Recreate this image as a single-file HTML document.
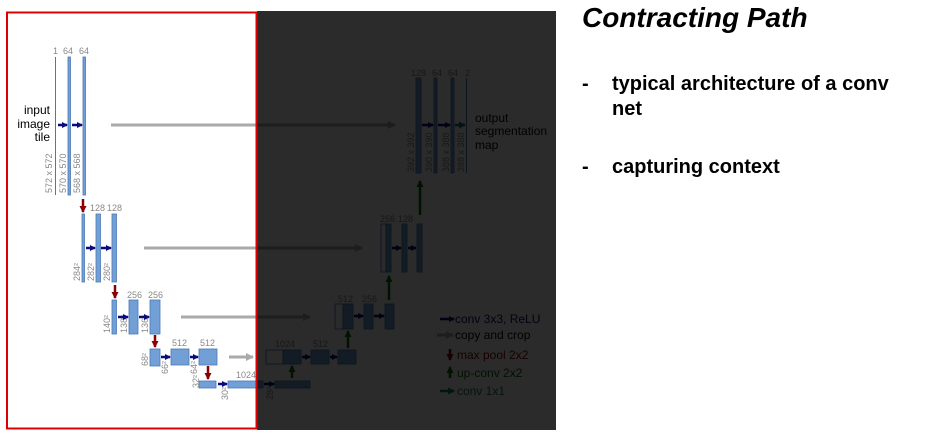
<!DOCTYPE html>
<html><head><style>
html,body{margin:0;padding:0;background:#fff;width:942px;height:438px;overflow:hidden}
svg{display:block;font-family:"Liberation Sans",sans-serif}
.b{fill:#729fd6;stroke:#4a78b5;stroke-width:0.8}
.d{fill:#888;font-size:9px}
.t{fill:#000;font-size:12px}
</style></head><body>
<svg width="942" height="438" viewBox="0 0 942 438">
<defs>
<marker id="ab" markerWidth="6" markerHeight="6" refX="5" refY="3" orient="auto" markerUnits="userSpaceOnUse"><path d="M0,0 L6,3 L0,6z" fill="#0b0b7a"/></marker>
<marker id="ag" markerWidth="8" markerHeight="8" refX="7" refY="4" orient="auto" markerUnits="userSpaceOnUse"><path d="M0,0 L8,4 L0,8z" fill="#aaa"/></marker>
<marker id="ar" markerWidth="7" markerHeight="7" refX="6" refY="3.5" orient="auto" markerUnits="userSpaceOnUse"><path d="M0,0 L7,3.5 L0,7z" fill="#8b0000"/></marker>
<marker id="au" markerWidth="7" markerHeight="7" refX="6" refY="3.5" orient="auto" markerUnits="userSpaceOnUse"><path d="M0,0 L7,3.5 L0,7z" fill="#0a6a0a"/></marker>
<marker id="at" markerWidth="7" markerHeight="7" refX="6" refY="3.5" orient="auto" markerUnits="userSpaceOnUse"><path d="M0,0 L7,3.5 L0,7z" fill="#1a7a6a"/></marker>
</defs>
<g stroke-width="3" fill="none">
<!-- copy arrows -->
<line x1="111" y1="125" x2="395" y2="125" stroke="#aaa" marker-end="url(#ag)"/>
<line x1="144" y1="248" x2="362" y2="248" stroke="#aaa" marker-end="url(#ag)"/>
<line x1="181" y1="317" x2="310" y2="317" stroke="#aaa" marker-end="url(#ag)"/>
<line x1="229" y1="357" x2="253" y2="357" stroke="#aaa" marker-end="url(#ag)"/>
</g>
<!-- level1 -->
<rect x="55" y="57" width="1" height="138" fill="#4a78b5"/>
<rect class="b" x="68" y="57" width="2.5" height="138"/>
<rect class="b" x="83" y="57" width="2.5" height="138"/>
<text class="d" x="53" y="54">1</text><text class="d" x="63" y="54">64</text><text class="d" x="79" y="54">64</text>
<text class="t" x="50" y="114" text-anchor="end">input</text>
<text class="t" x="50" y="128" text-anchor="end">image</text>
<text class="t" x="50" y="141" text-anchor="end">tile</text>
<text class="d" transform="translate(52,193) rotate(-90)">572 x 572</text>
<text class="d" transform="translate(66,193) rotate(-90)">570 x 570</text>
<text class="d" transform="translate(80,193) rotate(-90)">568 x 568</text>
<!-- level2 -->
<rect class="b" x="82" y="214" width="2.5" height="68"/>
<rect class="b" x="96" y="214" width="4.5" height="68"/>
<rect class="b" x="112" y="214" width="4.5" height="68"/>
<text class="d" x="90" y="211">128</text><text class="d" x="107" y="211">128</text>
<text class="d" transform="translate(80,281) rotate(-90)">284²</text>
<text class="d" transform="translate(94,281) rotate(-90)">282²</text>
<text class="d" transform="translate(110,281) rotate(-90)">280²</text>
<!-- level3 -->
<rect class="b" x="112" y="300" width="4.5" height="34"/>
<rect class="b" x="129" y="300" width="9" height="34"/>
<rect class="b" x="150" y="300" width="10" height="34"/>
<text class="d" x="127" y="298">256</text><text class="d" x="148" y="298">256</text>
<text class="d" transform="translate(110,333) rotate(-90)">140²</text>
<text class="d" transform="translate(127,333) rotate(-90)">138²</text>
<text class="d" transform="translate(148,333) rotate(-90)">136²</text>
<!-- level4 -->
<rect class="b" x="150" y="349" width="10" height="17"/>
<rect class="b" x="171" y="349" width="18" height="16"/>
<rect class="b" x="199" y="349" width="18" height="16"/>
<text class="d" x="172" y="346">512</text><text class="d" x="200" y="346">512</text>
<text class="d" transform="translate(148,366) rotate(-90)">68²</text>
<text class="d" transform="translate(168,374) rotate(-90)">66²</text>
<text class="d" transform="translate(197,374) rotate(-90)">64²</text>
<!-- level5 -->
<rect class="b" x="199" y="381" width="17" height="7"/>
<rect class="b" x="228" y="381" width="35" height="7"/>
<rect class="b" x="275" y="381" width="35" height="7"/>
<text class="d" x="236" y="378">1024</text>
<text class="d" transform="translate(199,388) rotate(-90)">32²</text>
<text class="d" transform="translate(228,400) rotate(-90)">30²</text>
<text class="d" transform="translate(273,400) rotate(-90)">28²</text>
<!-- right side -->
<rect x="266" y="350" width="17" height="14" fill="#fff" stroke="#4a78b5" stroke-width="0.8"/>
<rect class="b" x="283" y="350" width="18" height="14"/>
<rect class="b" x="311" y="350" width="18" height="14"/>
<rect class="b" x="338" y="350" width="18" height="14"/>
<text class="d" x="275" y="347">1024</text><text class="d" x="313" y="347">512</text>
<rect x="335" y="304" width="8" height="25" fill="#fff" stroke="#4a78b5" stroke-width="0.8"/>
<rect class="b" x="343" y="304" width="10" height="25"/>
<rect class="b" x="364" y="304" width="9" height="25"/>
<rect class="b" x="385" y="304" width="9" height="25"/>
<text class="d" x="338" y="302">512</text><text class="d" x="362" y="302">256</text>
<rect x="381" y="224" width="5" height="48" fill="#fff" stroke="#4a78b5" stroke-width="0.8"/>
<rect class="b" x="386" y="224" width="5" height="48"/>
<rect class="b" x="402" y="224" width="5" height="48"/>
<rect class="b" x="417" y="224" width="5" height="48"/>
<text class="d" x="380" y="222">256</text><text class="d" x="398" y="222">128</text>
<rect class="b" x="416" y="78" width="5" height="95"/>
<rect class="b" x="434" y="78" width="3" height="95"/>
<rect class="b" x="451" y="78" width="3" height="95"/>
<rect x="466" y="78" width="1" height="95" fill="#4a78b5"/>
<text class="d" x="411" y="76">128</text><text class="d" x="432" y="76">64</text><text class="d" x="448" y="76">64</text><text class="d" x="465" y="76">2</text>
<text class="d" transform="translate(414,172) rotate(-90)">392 x 392</text>
<text class="d" transform="translate(432,172) rotate(-90)">390 x 390</text>
<text class="d" transform="translate(449,172) rotate(-90)">388 x 388</text>
<text class="d" transform="translate(464,172) rotate(-90)">388 x 388</text>
<text class="t" x="475" y="122">output</text>
<text class="t" x="475" y="135">segmentation</text>
<text class="t" x="475" y="149">map</text>
<g stroke-width="2.5" fill="none">
<line x1="58" y1="125" x2="67" y2="125" stroke="#0b0b7a" marker-end="url(#ab)"/>
<line x1="72" y1="125" x2="82" y2="125" stroke="#0b0b7a" marker-end="url(#ab)"/>
<line x1="86" y1="248" x2="95" y2="248" stroke="#0b0b7a" marker-end="url(#ab)"/>
<line x1="101" y1="248" x2="111" y2="248" stroke="#0b0b7a" marker-end="url(#ab)"/>
<line x1="118" y1="317" x2="128" y2="317" stroke="#0b0b7a" marker-end="url(#ab)"/>
<line x1="139" y1="317" x2="149" y2="317" stroke="#0b0b7a" marker-end="url(#ab)"/>
<line x1="161" y1="357" x2="170" y2="357" stroke="#0b0b7a" marker-end="url(#ab)"/>
<line x1="190" y1="357" x2="198" y2="357" stroke="#0b0b7a" marker-end="url(#ab)"/>
<line x1="218" y1="384" x2="227" y2="384" stroke="#0b0b7a" marker-end="url(#ab)"/>
<line x1="264" y1="384" x2="274" y2="384" stroke="#0b0b7a" marker-end="url(#ab)"/>
<line x1="302" y1="357" x2="310" y2="357" stroke="#0b0b7a" marker-end="url(#ab)"/>
<line x1="330" y1="357" x2="337" y2="357" stroke="#0b0b7a" marker-end="url(#ab)"/>
<line x1="354" y1="316" x2="363" y2="316" stroke="#0b0b7a" marker-end="url(#ab)"/>
<line x1="374" y1="316" x2="384" y2="316" stroke="#0b0b7a" marker-end="url(#ab)"/>
<line x1="392" y1="248" x2="401" y2="248" stroke="#0b0b7a" marker-end="url(#ab)"/>
<line x1="408" y1="248" x2="416" y2="248" stroke="#0b0b7a" marker-end="url(#ab)"/>
<line x1="422" y1="125" x2="433" y2="125" stroke="#0b0b7a" marker-end="url(#ab)"/>
<line x1="438" y1="125" x2="450" y2="125" stroke="#0b0b7a" marker-end="url(#ab)"/>
<line x1="455" y1="125" x2="465" y2="125" stroke="#1a7a6a" marker-end="url(#at)"/>
<line x1="83" y1="199" x2="83" y2="212" stroke="#8b0000" marker-end="url(#ar)"/>
<line x1="115" y1="285" x2="115" y2="298" stroke="#8b0000" marker-end="url(#ar)"/>
<line x1="155" y1="335" x2="155" y2="347" stroke="#8b0000" marker-end="url(#ar)"/>
<line x1="208" y1="366" x2="208" y2="379" stroke="#8b0000" marker-end="url(#ar)"/>
<line x1="292" y1="378" x2="292" y2="366" stroke="#0a6a0a" marker-end="url(#au)"/>
<line x1="348" y1="348" x2="348" y2="331" stroke="#0a6a0a" marker-end="url(#au)"/>
<line x1="389" y1="300" x2="389" y2="276" stroke="#0a6a0a" marker-end="url(#au)"/>
<line x1="420" y1="215" x2="420" y2="181" stroke="#0a6a0a" marker-end="url(#au)"/>
<!-- legend -->
<line x1="440" y1="319" x2="454" y2="319" stroke="#0b0b7a" marker-end="url(#ab)"/>
<line x1="437" y1="335" x2="453" y2="335" stroke="#aaa" stroke-width="3" marker-end="url(#ag)"/>
<line x1="450" y1="349" x2="450" y2="360" stroke="#8b0000" marker-end="url(#ar)"/>
<line x1="450" y1="378" x2="450" y2="367" stroke="#0a6a0a" marker-end="url(#au)"/>
<line x1="440" y1="391" x2="454" y2="391" stroke="#1a7a6a" marker-end="url(#at)"/>
</g>
<g font-size="12">
<text x="455" y="323" fill="#0b0b7a">conv 3x3, ReLU</text>
<text x="455" y="339" fill="#000">copy and crop</text>
<text x="457" y="359" fill="#8b0000">max pool 2x2</text>
<text x="457" y="377" fill="#0a6a0a">up-conv 2x2</text>
<text x="457" y="395" fill="#1a7a6a">conv 1x1</text>
</g>
<!-- dark overlay -->
<rect x="257" y="11" width="299" height="419" fill="#000" fill-opacity="0.83"/>
<!-- red frame -->
<rect x="7" y="12.5" width="249.5" height="416" fill="none" stroke="#d00" stroke-width="2"/>
<!-- right text -->
<text x="582" y="27" font-size="28" font-weight="bold" font-style="italic" fill="#000">Contracting Path</text>
<g font-size="20" font-weight="bold" fill="#000">
<text x="582" y="90">-</text><text x="612" y="90">typical architecture of a conv</text>
<text x="612" y="115">net</text>
<text x="582" y="173">-</text><text x="612" y="173">capturing context</text>
</g>
</svg>
</body></html>
